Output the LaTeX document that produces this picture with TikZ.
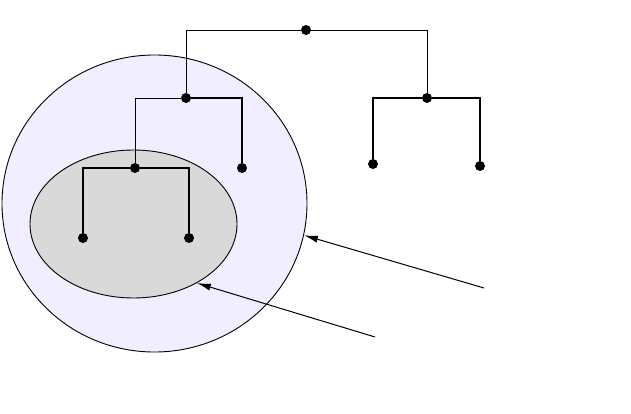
\documentclass[tikz,border=0pt]{standalone}
\usetikzlibrary{shapes, arrows.meta, positioning}
\definecolor{outerfill}{RGB}{241,238,255}
\tikzstyle{dot}=[circle, fill=black, inner sep=0pt, minimum size=10pt]
\tikzstyle{cluster}=[draw, ellipse, line width=0.9pt, inner sep=0pt]
\tikzstyle{branch}=[line width=0.9pt]
\tikzstyle{leafedge}=[line width=1.15pt]
\tikzstyle{pointer}=[line width=1pt, -{Latex[length=14pt,width=7pt]}]

\begin{document}
\begin{tikzpicture}[x=1pt, y=-1pt]
    \useasboundingbox (0, 0) rectangle (631, 414);

    % clusters
    \node (outer)[cluster, fill=outerfill, minimum width=305pt, minimum height=297pt] at (154.5, 203.5) {};
    \node (inner)[cluster, fill=black!15, minimum width=207pt, minimum height=148pt] at (133.5, 224) {};

    % tree
    \node (root)[dot] at (306, 30) {};
    \node (a)[dot] at (186, 98) {};
    \node (b)[dot] at (427, 98) {};
    \node (c)[dot] at (135, 168) {};
    \node (a2)[dot] at (242, 168) {};
    \node (b1)[dot] at (373, 164) {};
    \node (b2)[dot] at (480, 166) {};
    \node (c1)[dot] at (83, 238) {};
    \node (c2)[dot] at (189, 238) {};

    \draw[branch] (root) -| (a);
    \draw[branch] (root) -| (b);
    \draw[branch] (a) -| (c);
    \draw[leafedge] (a) -| (a2);
    \draw[leafedge] (c) -| (c1);
    \draw[leafedge] (c) -| (c2);
    \draw[leafedge] (b) -| (b1);
    \draw[leafedge] (b) -| (b2);

    % pointers
    \coordinate (p1) at (484, 288);
    \coordinate (p2) at (375, 337);
    \draw[pointer] (p1) -- (outer.-12);
    \draw[pointer] (p2) -- (inner.-43.4);

\end{tikzpicture}
\end{document}
